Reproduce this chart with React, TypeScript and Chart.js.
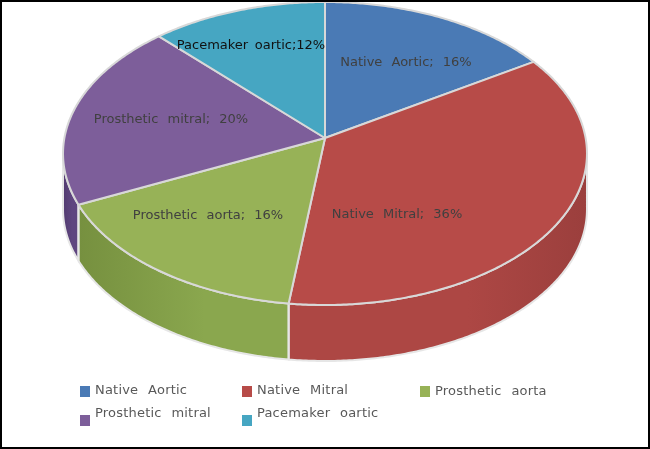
import { useEffect, useRef } from "react";
import { Chart, registerables } from "chart.js";

Chart.register(...registerables);

const categories = ["Native Aortic", "Native Mitral", "Prosthetic aorta", "Prosthetic mitral", "Pacemaker oartic"];
const values = [16, 36, 16, 20, 12];
const colors = ["#4a7ab5", "#b74b48", "#97b257", "#7d5e9a", "#46a6c2"];
const wallLight = ["#3f6a9e", "#ad4744", "#8aa74e", "#5f4680", "#3a8ea8"];
const wallDark = ["#35597f", "#9b3f3d", "#76903f", "#523b70", "#2f7a90"];

// perspective of the tilted disc: apex on the canvas, and the projection terms
const APEX_X = 325;
const APEX_Y = 138;
const SCALE_X = 260.6;
const SCALE_Y = 149.9;
const TILT = -0.1023;
const DEPTH = 56;

const labelCenters = [
  [406, 63],
  [397, 215],
  [208, 216],
  [171, 120],
  [251, 46],
];
const legendSlots = [
  [80, 386, 95, 394],
  [242, 386, 257, 394],
  [420, 386, 435, 395],
  [80, 415, 95, 417],
  [242, 415, 257, 417],
];

// angle is the library's arc angle (0 at 3 o'clock, clockwise)
function project(angle: number) {
  const x = Math.cos(angle);
  const y = Math.sin(angle);
  const d = 1 + TILT * y;
  return [APEX_X + (SCALE_X * x) / d, APEX_Y + (SCALE_Y * y) / d];
}

function rim(ctx: CanvasRenderingContext2D, a0: number, a1: number, dy = 0) {
  const steps = Math.max(2, Math.ceil(Math.abs(a1 - a0) / 0.01));
  for (let s = 0; s <= steps; s++) {
    const [x, y] = project(a0 + ((a1 - a0) * s) / steps);
    ctx.lineTo(x, y + dy);
  }
}

const pie3d = {
  id: "pie3d",
  beforeDatasetsDraw(chart: any) {
    const ctx = chart.ctx;
    const arcs = chart.getDatasetMeta(0).data;
    const edge = Math.asin(-TILT);

    // side wall, only the part of each slice that faces the viewer
    const walls = arcs
      .map((arc: any, i: number) => ({
        i,
        a0: Math.max(arc.startAngle, edge),
        a1: Math.min(arc.endAngle, Math.PI - edge),
      }))
      .filter((w: any) => w.a1 > w.a0);

    const wallPath = (w: any) => {
      ctx.beginPath();
      rim(ctx, w.a0, w.a1);
      rim(ctx, w.a1, w.a0, DEPTH);
      ctx.closePath();
    };

    walls.forEach((w: any) => {
      const x0 = project(w.a0)[0];
      const x1 = project(w.a1)[0];
      const g = ctx.createLinearGradient(x1, 0, x0, 0);
      g.addColorStop(0, w.i === 1 ? wallLight[w.i] : wallDark[w.i]);
      g.addColorStop(0.6, wallLight[w.i]);
      g.addColorStop(1, w.i === 1 ? wallDark[w.i] : wallLight[w.i]);
      wallPath(w);
      ctx.fillStyle = g;
      ctx.fill();
    });
    walls.forEach((w: any) => {
      wallPath(w);
      ctx.strokeStyle = "#e6e6e6";
      ctx.lineWidth = 2;
      ctx.stroke();
    });

    // top face, angles come from the library's arc elements
    arcs.forEach((arc: any, i: number) => {
      ctx.save();
      ctx.beginPath();
      ctx.moveTo(APEX_X, APEX_Y);
      rim(ctx, arc.startAngle, arc.endAngle);
      ctx.closePath();
      ctx.fillStyle = colors[i];
      ctx.fill();
      ctx.strokeStyle = "#d8d8d8";
      ctx.lineWidth = 2;
      ctx.lineJoin = "round";
      ctx.stroke();
      ctx.restore();
    });

    ctx.save();
    ctx.textBaseline = "middle";
    ctx.textAlign = "center";
    ctx.font = '13px "DejaVu Sans"';
    categories.forEach((name, i) => {
      const tight = i === 4;
      ctx.fillStyle = tight ? "#111111" : "#404040";
      ctx.wordSpacing = tight ? "2.5px" : "5px";
      ctx.letterSpacing = "0px";
      const text = tight ? `${name};${values[i]}%` : `${name}; ${values[i]}%`;
      ctx.fillText(text, labelCenters[i][0], labelCenters[i][1]);
    });

    ctx.textAlign = "left";
    ctx.textBaseline = "alphabetic";
    ctx.wordSpacing = "5.5px";
    ctx.letterSpacing = "0.2px";
    categories.forEach((name, i) => {
      const [mx, my, tx, ty] = legendSlots[i];
      ctx.fillStyle = colors[i];
      ctx.fillRect(mx, my, 10, 11);
      ctx.fillStyle = "#595959";
      ctx.fillText(name, tx, ty);
    });
    ctx.restore();
    return false;
  },
};

export default function App() {
  const ref = useRef<HTMLCanvasElement>(null);

  useEffect(() => {
    document.body.style.margin = "0";
    const canvas = ref.current;
    if (!canvas) return;

    const chart = new Chart(canvas, {
      type: "pie",
      data: {
        labels: categories,
        datasets: [
          {
            data: values,
            backgroundColor: colors,
          },
        ],
      },
      options: {
        responsive: false,
        animation: false,
        devicePixelRatio: 1,
        plugins: {
          legend: { display: false },
          tooltip: { enabled: false },
          title: { display: false },
        },
      },
      plugins: [pie3d],
    });
    return () => chart.destroy();
  }, []);

  return (
    <div style={{ position: "relative", width: 650, height: 449, background: "#fff" }}>
      <canvas ref={ref} width={650} height={449} style={{ display: "block" }} />
      <div
        style={{
          position: "absolute",
          inset: 0,
          border: "2px solid #000",
          boxSizing: "border-box",
          pointerEvents: "none",
        }}
      />
    </div>
  );
}
